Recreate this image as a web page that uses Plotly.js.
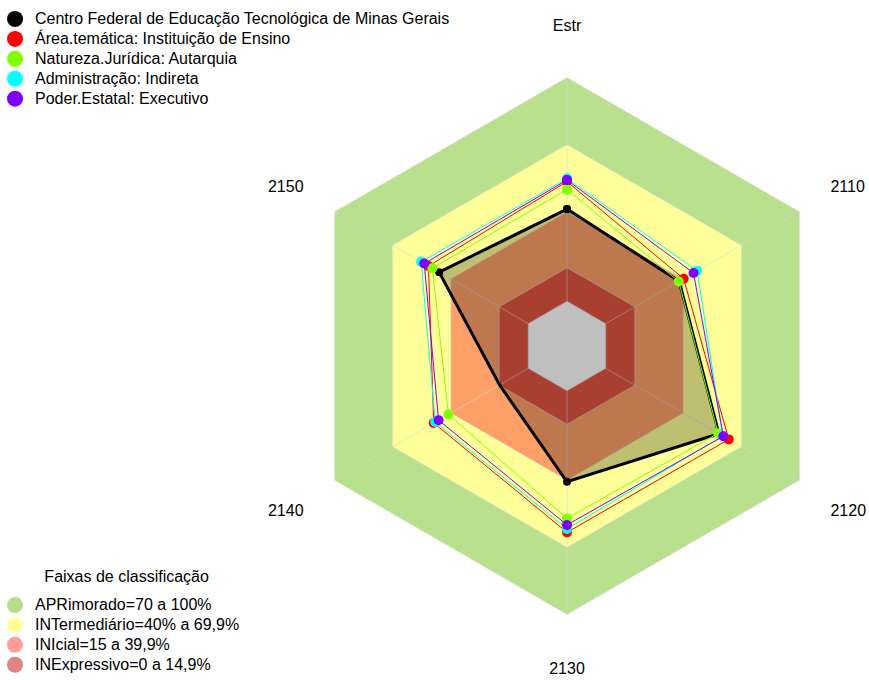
<!DOCTYPE html>
<html><head><meta charset="utf-8">
<script src="https://cdn.plot.ly/plotly-3.0.1.min.js"></script>
<style>html,body{margin:0;padding:0;background:#fff}#chart{width:869px;height:680px}</style>
</head><body><div id="chart"></div>
<script>
// ---- data ----
const categories = ['Estr', '2110', '2120', '2130', '2140', '2150'];

const seriesNames = [
  'Centro Federal de Educação Tecnológica de Minas Gerais',
  'Área.temática: Instituição de Ensino',
  'Natureza.Jurídica: Autarquia',
  'Administração: Indireta',
  'Poder.Estatal: Executivo'
];
const centroFederal    = [41.2, 37.9, 58.4, 40.7, 14.8, 46.0];
const areaTematica     = [53.5, 40.2, 63.5, 63.3, 48.8, 51.5];
const naturezaJuridica = [50.0, 37.7, 58.0, 57.1, 41.2, 49.5];
const administracao    = [54.9, 47.2, 60.4, 61.8, 48.0, 55.3];
const poderEstatal     = [54.2, 45.3, 60.7, 60.0, 46.3, 53.7];
const seriesColors = ['#000000', '#FF0000', '#80FF00', '#00FFFF', '#8000FF'];

const bandTitle = 'Faixas de classificação';
const bandNames = [
  'APRimorado=70 a 100%',
  'INTermediário=40% a 69,9%',
  'INIcial=15 a 39,9%',
  'INExpressivo=0 a 14,9%'
];
const bandUpper = [100, 70, 40, 15];
const bandLower = 0;
const bandLegendColors = ['#B5DE8B', '#FFFF99', '#FF9C9C', '#DF8585'];
const bandFillColors = ['#B9E08C', '#FFFF99', '#FCA068', '#E0553F'];

// ---- traces ----
const closeLoop = a => a.concat([a[0]]);
const thetaClosed = closeLoop(categories);
const traces = [];

bandUpper.forEach((u, i) => {
  traces.push({
    type: 'scatterpolar', mode: 'lines', showlegend: false, hoverinfo: 'skip',
    r: closeLoop(categories.map(() => u)), theta: thetaClosed,
    fill: 'toself', fillcolor: bandFillColors[i],
    line: {color: 'rgba(225,225,225,0.55)', width: 1}
  });
});
traces.push({
  type: 'scatterpolar', mode: 'lines', showlegend: false, hoverinfo: 'skip',
  r: closeLoop(categories.map(() => bandLower)), theta: thetaClosed,
  fill: 'toself', fillcolor: '#FFFFFF',
  line: {color: 'rgba(225,225,225,0.55)', width: 1}
});
categories.forEach(c => {
  traces.push({
    type: 'scatterpolar', mode: 'lines', showlegend: false, hoverinfo: 'skip',
    r: [bandLower, bandUpper[0]], theta: [c, c],
    line: {color: 'rgba(215,215,215,0.6)', width: 1}
  });
});

const seriesValues = [centroFederal, areaTematica, naturezaJuridica, administracao, poderEstatal];
seriesValues.forEach((vals, i) => {
  const isMain = i === 0;
  traces.push({
    type: 'scatterpolar', mode: 'lines+markers', showlegend: false,
    name: seriesNames[i],
    r: closeLoop(vals), theta: thetaClosed,
    line: {color: seriesColors[i], width: isMain ? 3 : 1},
    marker: {color: seriesColors[i], size: isMain ? 8 : 10},
    fill: isMain ? 'toself' : 'none',
    fillcolor: isMain ? 'rgba(0,0,0,0.25)' : undefined
  });
});

// label-only polar subplots for the side category labels
['polar2', 'polar3'].forEach(sp => {
  traces.push({
    type: 'scatterpolar', subplot: sp, mode: 'markers', showlegend: false, hoverinfo: 'skip',
    r: categories.map(() => null), theta: categories
  });
});

const big = s => '<span style="font-size:16px">' + s + '</span>';
seriesNames.forEach((n, i) => {
  traces.push({
    type: 'scatterpolar', mode: 'markers', r: [null], theta: [null],
    name: big(n), legend: 'legend', hoverinfo: 'skip',
    marker: {color: seriesColors[i], size: 16}
  });
});
bandNames.forEach((n, i) => {
  traces.push({
    type: 'scatterpolar', mode: 'markers', r: [null], theta: [null],
    name: big(n), legend: 'legend2', hoverinfo: 'skip',
    marker: {color: bandLegendColors[i], size: 16}
  });
});

const idx = categories.map((c, i) => i);
const only = keep => categories.map((c, i) => keep.includes(i) ? c : '');

const angularBase = {
  type: 'category', categoryorder: 'array', categoryarray: categories,
  direction: 'clockwise',
  showgrid: false, showline: false,
  tickmode: 'array', tickvals: idx,
  tickcolor: 'rgba(0,0,0,0)',
  tickfont: {size: 16, color: '#000'}
};
const hiddenRadial = {visible: false, range: [-20, 115], showgrid: false};

const layout = {
  width: 869, height: 680,
  margin: {l: 265, r: 0, t: 44, b: 32, autoexpand: false},
  paper_bgcolor: '#ffffff',
  font: {family: '"Liberation Sans", Arial, sans-serif', size: 16, color: '#000'},
  showlegend: true,
  polar: {
    bgcolor: 'rgba(0,0,0,0)', gridshape: 'linear',
    domain: {x: [0, 1], y: [0, 1]},
    radialaxis: hiddenRadial,
    angularaxis: Object.assign({}, angularBase, {rotation: 90, ticktext: only([0, 3]), ticks: 'outside', ticklen: 6})
  },
  polar2: {
    bgcolor: 'rgba(0,0,0,0)', gridshape: 'linear',
    domain: {x: [0, 1], y: [0, 1]},
    radialaxis: hiddenRadial,
    angularaxis: Object.assign({}, angularBase, {rotation: 90.8, ticktext: only([1, 4]), ticks: 'outside', ticklen: 1})
  },
  polar3: {
    bgcolor: 'rgba(0,0,0,0)', gridshape: 'linear',
    domain: {x: [0, 1], y: [0, 1]},
    radialaxis: hiddenRadial,
    angularaxis: Object.assign({}, angularBase, {rotation: 89.2, ticktext: only([2, 5]), ticks: 'outside', ticklen: 1})
  },
  legend: {
    xref: 'paper', yref: 'container', x: -0.447, y: 0.994,
    xanchor: 'left', yanchor: 'top',
    font: {size: 13, color: '#000'}, bgcolor: 'rgba(0,0,0,0)', tracegroupgap: 0
  },
  legend2: {
    xref: 'paper', yref: 'container', x: -0.447, y: 1 - 566.7 / 680,
    xanchor: 'left', yanchor: 'top',
    title: {text: '\u00a0<br>' + big('\u00a0\u00a0\u00a0' + bandTitle) + '<br>\u00a0', side: 'top center', font: {size: 6, color: '#000'}},
    font: {size: 13, color: '#000'}, bgcolor: 'rgba(0,0,0,0)', tracegroupgap: 0
  }
};

Plotly.newPlot('chart', traces, layout, {displayModeBar: false, staticPlot: true});
</script>
</body></html>
